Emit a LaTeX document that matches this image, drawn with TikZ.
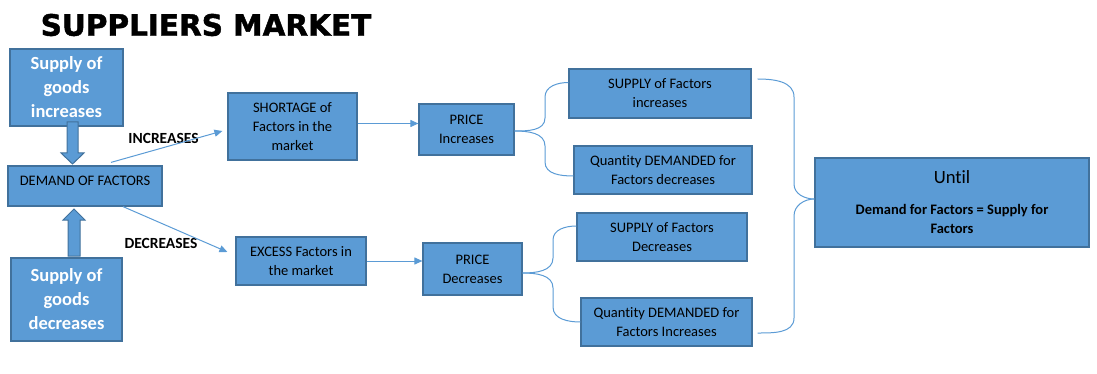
\documentclass[tikz,border=0pt]{standalone}
\usepackage{fontspec}
\setmainfont{Carlito}[Ligatures=NoCommon]
\newfontfamily\titlefont{DejaVu Sans}[BoldFeatures={FakeBold=1.5}]
\usetikzlibrary{arrows.meta}
\definecolor{boxfill}{HTML}{5B9BD5}
\definecolor{boxline}{HTML}{41719C}
\tikzset{
  box/.style={draw=boxline,fill=boxfill,line width=1.2pt,inner sep=2pt,align=center,font=\fontsize{14.5}{19}\selectfont},
  goodsbox/.style={box,text=white,font=\fontsize{18.5}{24}\selectfont\bfseries},
  link/.style={draw=boxfill,line width=1pt,-{Triangle[length=8pt,width=7pt]}},
  brace/.style={draw=boxfill,line width=1pt},
  bigarrow/.style={draw=boxline,fill=boxfill,line width=1pt},
  lbl/.style={font=\fontsize{15.5}{17}\selectfont\bfseries}
}
\begin{document}
\begin{tikzpicture}[x=1pt,y=-1pt]
\useasboundingbox (0,0) rectangle (1097,374);
\node[font=\titlefont\bfseries\fontsize{29.5}{32}\selectfont] (title) at (206,25) {SUPPLIERS MARKET};
\node[goodsbox,minimum width=113,minimum height=77] (supinc) at (66.5,87.5) {Supply of\\goods\\increases};
\node[box,minimum width=154,minimum height=40,text depth=10pt] (demand) at (85,186) {DEMAND OF FACTORS};
\node[goodsbox,minimum width=111,minimum height=83] (supdec) at (66.5,299.5) {Supply of\\goods\\decreases};
\node[box,minimum width=129,minimum height=67] (short) at (292.5,126.5) {SHORTAGE of\\Factors in the\\market};
\node[box,minimum width=130,minimum height=48] (excess) at (301,261) {EXCESS Factors in\\the market};
\node[box,minimum width=95,minimum height=51] (pinc) at (466.5,129.5) {PRICE\\Increases};
\node[box,minimum width=99,minimum height=52] (pdec) at (472.5,269) {PRICE\\Decreases};
\node[box,minimum width=182,minimum height=49] (sinc) at (660,93.5) {SUPPLY of Factors\\increases};
\node[box,minimum width=178,minimum height=48] (qdec) at (663,170) {Quantity DEMANDED for\\Factors decreases};
\node[box,minimum width=170,minimum height=48] (sdec) at (662,237) {SUPPLY of Factors\\Decreases};
\node[box,minimum width=171,minimum height=48] (qinc) at (666.5,322) {Quantity DEMANDED for\\Factors Increases};
\node[box,minimum width=274,minimum height=89] (until) at (952,202.5) {{\fontsize{18.7}{22}\selectfont Until}\\[12pt]\textbf{Demand for Factors = Supply for}\\\textbf{Factors}};
\node[lbl] (uplbl) at (163.5,138) {INCREASES};
\node[lbl] (downlbl) at (161,243) {DECREASES};
\draw[bigarrow] (67,122) -- (78,122) -- (78,153) -- (84,153) -- (72.5,164) -- (61,153) -- (67,153) -- cycle;
\draw[bigarrow] (68,256) -- (80,256) -- (80,220) -- (85,220) -- (74,209) -- (63,220) -- (68,220) -- cycle;
\draw[link] ([xshift=26,yshift=3]demand.north) -- ([xshift=-5,yshift=-4.5]short.west);
\draw[link] ([xshift=38]demand.south) -- ([xshift=-8,yshift=9]excess.west);
\draw[link] ([yshift=3]short.east) -- ([yshift=6]pinc.west);
\draw[link] (excess.east) -- ([yshift=8]pdec.west);
\draw[brace] ([yshift=-1.5]pinc.east) to[out=0,in=-90] (545,118) -- (545,97) to[out=90,in=180] ([yshift=11]sinc.west);
\draw[brace] ([yshift=-1.5]pinc.east) to[out=0,in=90] (545,146) -- (545,162) to[out=-90,in=180] ([yshift=-6]qdec.west);
\draw[brace] ([yshift=-4]pdec.east) to[out=0,in=-90] (553,258) -- (553,240) to[out=90,in=180] ([yshift=11]sdec.west);
\draw[brace] ([yshift=-4]pdec.east) to[out=0,in=90] (553,288) -- (553,307) to[out=-90,in=180] (qinc.west);
\draw[brace] ([xshift=6,yshift=14.5]sinc.east) to[out=0,in=90] (794,97) -- (794,184) to[out=-90,in=180] ([yshift=3.5]until.west);
\draw[brace] ([yshift=3.5]until.west) to[out=180,in=90] (794,216) -- (794,318) to[out=-90,in=0] ([xshift=5,yshift=-11]qinc.east);
\end{tikzpicture}
\end{document}
